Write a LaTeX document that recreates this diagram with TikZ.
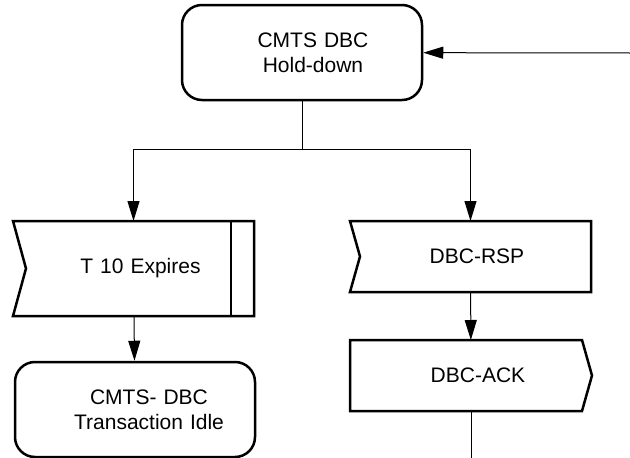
\documentclass[tikz,border=0pt]{standalone}
\usepackage{fontspec}
\setmainfont{Liberation Sans}
\usetikzlibrary{arrows.meta}

\tikzset{
  % text set a little right of the centre, as in the reference
  txt/.style={text width=200pt, font=\fontsize{21}{25}\selectfont,
    execute at begin node={\parindent=0pt\parfillskip=0pt
      \leftskip=#1 plus 1fil\rightskip=0pt plus 1fil}},
  txt/.default=14pt,
  state/.style={txt=#1, draw, line width=2.5pt, rectangle, rounded corners=20pt,
    minimum width=240pt, minimum height=95pt},
  slot/.style={txt=#1, rectangle, outer sep=0pt},
  outline/.style={line width=2.5pt},
  flow/.style={-{Triangle[length=20pt,width=12pt]}, line width=1pt},
}

\begin{document}
\begin{tikzpicture}[x=1pt, y=-1pt]
  \useasboundingbox (0,0) rectangle (630,458);

  \node[state=22pt] (hold) at (302,52.5) {CMTS DBC\\Hold-down};
  \node[slot=14pt, minimum width=241pt, minimum height=95pt] (t10) at (133.5,268.5) {T 10 Expires};
  \node[state=28pt] (idle) at (135,409.5) {CMTS- DBC\\Transaction Idle};
  \node[slot=13pt, minimum width=241pt, minimum height=71pt] (rsp) at (470.5,256.5) {DBC-RSP};
  \node[slot=14pt, minimum width=242pt, minimum height=71pt] (ack) at (471,375.5) {DBC-ACK};

  % input signals (notch on the left)
  \draw[outline] (t10.north west) -- (t10.north east) -- (t10.south east)
    -- (t10.south west) -- ([xshift=13pt]t10.west) -- cycle;
  \draw[outline] ([xshift=-23pt]t10.north east) -- ([xshift=-23pt]t10.south east);
  \draw[outline] (rsp.north west) -- (rsp.north east) -- (rsp.south east)
    -- (rsp.south west) -- ([xshift=10pt]rsp.west) -- cycle;
  % output signal (point on the right)
  \draw[outline] (ack.north west) -- ([xshift=-10pt]ack.north east) -- (ack.east)
    -- ([xshift=-10pt]ack.south east) -- (ack.south west) -- cycle;

  \coordinate (in) at (630,53);
  \coordinate (split) at (302,149);
  \coordinate (out) at (471,458);

  \draw[flow] (in) -- (hold);
  \draw[line width=1pt] (hold) -- (split);
  \draw[flow] (split) -| (t10);
  \draw[flow] (split) -| (rsp);
  \draw[flow] (t10) -- (idle);
  \draw[flow] (rsp) -- (ack);
  \draw[line width=1pt] (ack) -- (out);
\end{tikzpicture}
\end{document}
